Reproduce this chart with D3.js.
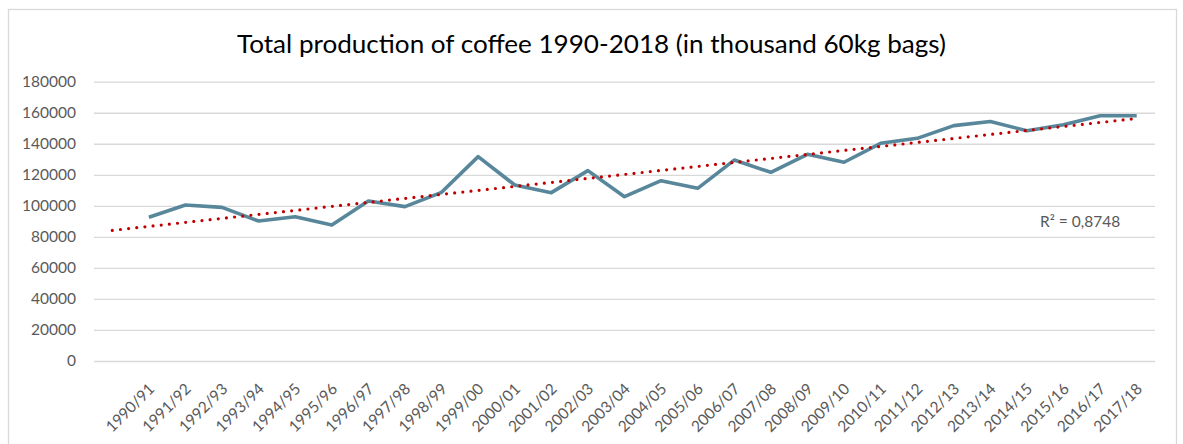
<!DOCTYPE html>
<html>
<head>
<meta charset="utf-8">
<script src="https://cdn.jsdelivr.net/npm/d3@7"></script>
<style>
  html, body { margin: 0; padding: 0; background: #ffffff; }
  svg { display: block; }
  text { font-family: Lato, "Noto Sans", sans-serif; }
</style>
</head>
<body>
<svg id="chart" width="1183" height="444"></svg>
<script>
// Coffee crop years
const categories = ["1990/91","1991/92","1992/93","1993/94","1994/95","1995/96","1996/97",
  "1997/98","1998/99","1999/00","2000/01","2001/02","2002/03","2003/04","2004/05",
  "2005/06","2006/07","2007/08","2008/09","2009/10","2010/11","2011/12","2012/13",
  "2013/14","2014/15","2015/16","2016/17","2017/18"];

// Total production, thousand 60kg bags
const production = [92600, 100500, 99000, 90200, 93000, 87600, 103100, 99500, 108700,
  131700, 113400, 108500, 122700, 105900, 116200, 111300, 129500, 121600, 133200,
  128100, 140300, 143500, 151700, 154300, 148400, 152300, 158100, 158100];

const yTicks = [0, 20000, 40000, 60000, 80000, 100000, 120000, 140000, 160000, 180000];
const rSquaredLabel = "R² = 0,8748";
const title = "Total production of coffee 1990-2018 (in thousand 60kg bags)";

const svg = d3.select("#chart");
const W = 1183, H = 444;
const plot = { left: 94, right: 1155, top: 81.7, bottom: 361 };

// outer chart frame
svg.append("rect")
  .attr("x", 8.5).attr("y", 9.5)
  .attr("width", 1168).attr("height", 445)
  .attr("fill", "#ffffff").attr("stroke", "#d9d9d9").attr("stroke-width", 1.3);

// one extra slot on the left holds the backward forecast of the trendline
const x = d3.scaleLinear().domain([-1.5, categories.length - 0.5]).range([plot.left, plot.right]);
const y = d3.scaleLinear().domain([0, 180000]).range([plot.bottom, plot.top]);

// horizontal gridlines + value labels
const yAxis = d3.axisLeft(y)
  .tickValues(yTicks)
  .tickSize(-(plot.right - plot.left))
  .tickPadding(18)
  .tickFormat(d3.format("d"));
const gy = svg.append("g").attr("transform", `translate(${plot.left},0)`).call(yAxis);
gy.select(".domain").remove();
gy.selectAll(".tick line").attr("stroke", "#d9d9d9").attr("stroke-width", 1.3);
gy.selectAll(".tick text")
  .attr("fill", "#595959").attr("font-size", "15.5px")
  .attr("font-family", "Lato, 'Noto Sans', sans-serif");

// category labels, rotated
const xAxis = d3.axisBottom(x)
  .tickValues(d3.range(categories.length))
  .tickSize(0)
  .tickFormat(i => categories[i]);
const gx = svg.append("g").attr("transform", `translate(0,${plot.bottom})`).call(xAxis);
gx.select(".domain").remove();
gx.selectAll(".tick text")
  .attr("fill", "#595959").attr("font-size", "15.5px")
  .attr("font-family", "Lato, 'Noto Sans', sans-serif")
  .attr("text-anchor", "end")
  .attr("x", 0).attr("y", 0).attr("dy", 0)
  .attr("transform", "translate(6,29) rotate(-45)");

// production line
const line = d3.line().x((d, i) => x(i)).y(d => y(d));
svg.append("path")
  .datum(production)
  .attr("fill", "none")
  .attr("stroke", "#58879b")
  .attr("stroke-width", 3.6)
  .attr("stroke-linejoin", "round")
  .attr("d", line);

// least-squares linear trend, extended one period backward
const n = production.length;
const xs = d3.range(n);
const mx = d3.mean(xs), my = d3.mean(production);
const slope = d3.sum(xs, i => (i - mx) * (production[i] - my)) / d3.sum(xs, i => (i - mx) ** 2);
const intercept = my - slope * mx;
const trend = [-1, n - 1].map(i => [i, intercept + slope * i]);
svg.append("path")
  .datum(trend)
  .attr("fill", "none")
  .attr("stroke", "#c00000")
  .attr("stroke-width", 3.2)
  .attr("stroke-linecap", "round")
  .attr("stroke-dasharray", "0 8.2")
  .attr("d", d3.line().x(d => x(d[0])).y(d => y(d[1])));

// R² annotation
svg.append("text")
  .attr("x", 1040).attr("y", 227)
  .attr("fill", "#595959").attr("font-size", "15.5px")
  .text(rSquaredLabel);

// title
svg.append("text")
  .attr("x", (237 + 946) / 2).attr("y", 53)
  .attr("text-anchor", "middle")
  .attr("fill", "#000000").attr("font-size", "25px")
  .attr("textLength", 709).attr("lengthAdjust", "spacingAndGlyphs")
  .text(title);
</script>
</body>
</html>
